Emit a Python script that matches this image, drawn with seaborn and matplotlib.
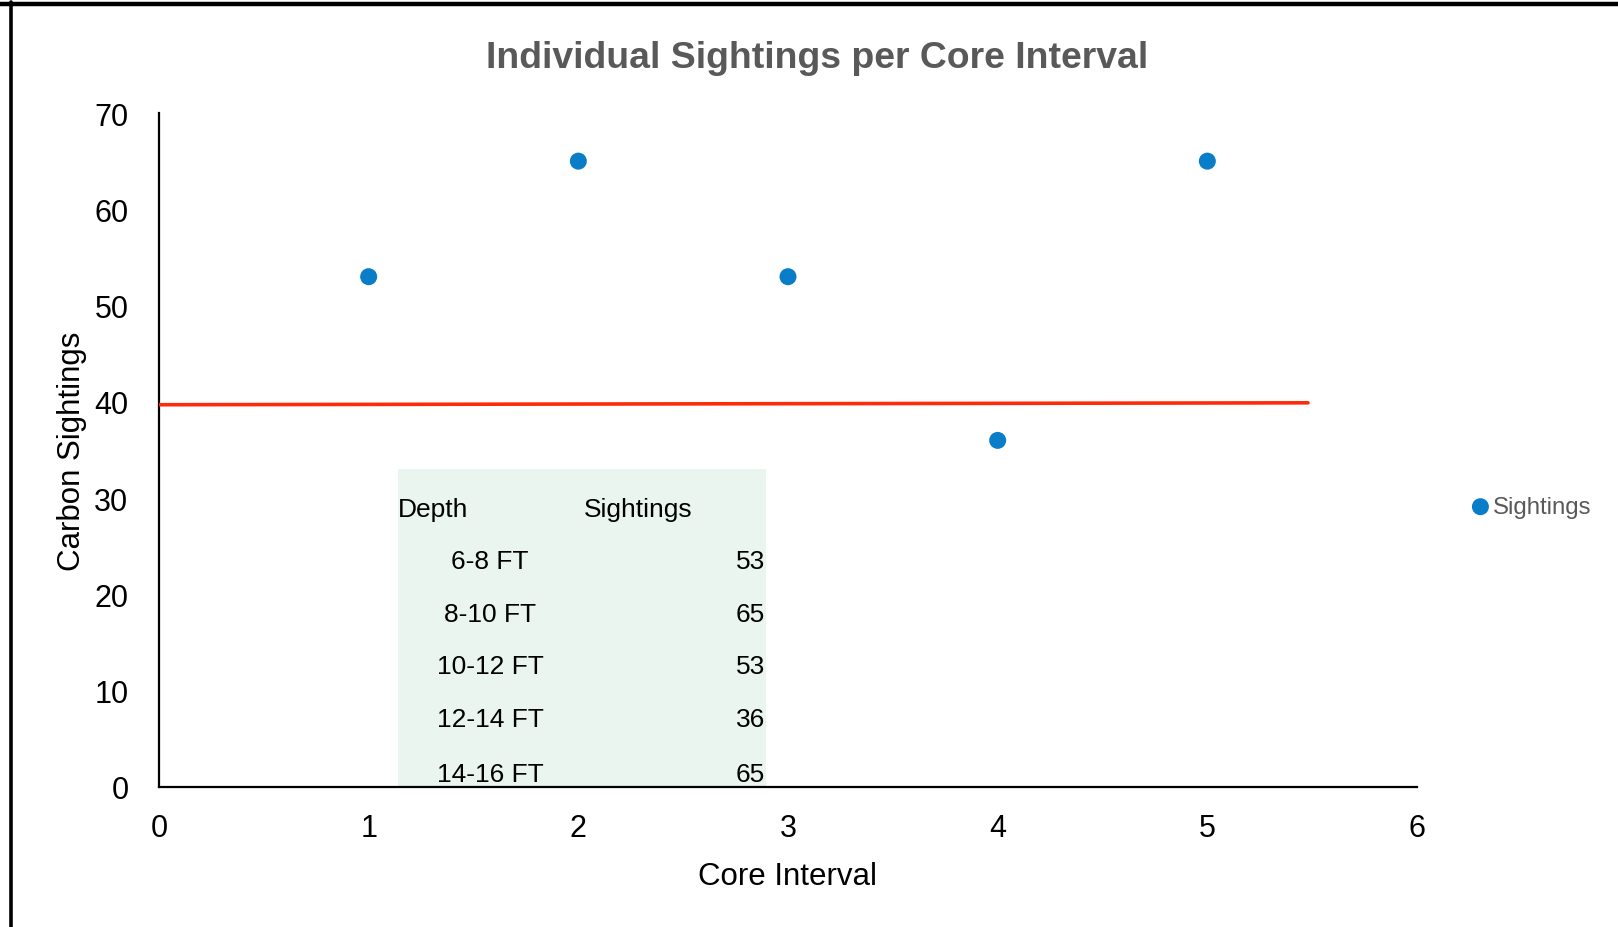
import matplotlib
matplotlib.use("Agg")
import matplotlib.pyplot as plt
import seaborn as sns
import pandas as pd
from matplotlib.lines import Line2D
from matplotlib.patches import Rectangle

# ---- data ----
core_interval = [1, 2, 3, 4, 5]
sightings = [53, 65, 53, 36, 65]
depth_labels = ["6-8 FT", "8-10 FT", "10-12 FT", "12-14 FT", "14-16 FT"]
threshold_x = [0, 5.48]
threshold_y = [39.7, 39.9]
x_ticks = [0, 1, 2, 3, 4, 5, 6]
y_ticks = [0, 10, 20, 30, 40, 50, 60, 70]

title = "Individual Sightings per Core Interval"
x_label = "Core Interval"
y_label = "Carbon Sightings"
series_name = "Sightings"

sns.set_theme(style="white")
plt.rcParams["font.family"] = ["Liberation Sans", "DejaVu Sans"]

W, H = 1618, 928
fig = plt.figure(figsize=(W / 100, H / 100), dpi=100)
ax = fig.add_axes([159 / W, 1 - 788 / H, (1417 - 159) / W, (788 - 114) / H])

df = pd.DataFrame({"x": core_interval, "y": sightings})
line_df = pd.DataFrame({"x": threshold_x, "y": threshold_y})

sns.lineplot(data=line_df, x="x", y="y", ax=ax, color="#FF2A0A", linewidth=2.6,
             legend=False, zorder=3)
sns.scatterplot(data=df, x="x", y="y", ax=ax, color="#0A7DC8", s=150,
                edgecolor="none", label=series_name, zorder=4)

ax.set_xlim(0, 6)
ax.set_ylim(0, 70)
ax.set_xticks(x_ticks)
ax.set_yticks(y_ticks)
ax.tick_params(axis="both", length=0, labelsize=22, colors="black")
ax.tick_params(axis="x", pad=19)
ax.tick_params(axis="y", pad=22)
for s in ["top", "right"]:
    ax.spines[s].set_visible(False)
for s in ["left", "bottom"]:
    ax.spines[s].set_color("black")
    ax.spines[s].set_linewidth(1.6)

ax.set_xlabel(x_label, fontsize=22.5, color="black", labelpad=13)
ax.set_ylabel(y_label, fontsize=22.5, color="black", labelpad=5)

# ---- embedded table ----
x0, x1 = (398 - 159) / 1258, (766 - 159) / 1258
ytop = (788 - 469.5) / 674
ax.add_patch(Rectangle((x0, 0), x1 - x0, ytop, transform=ax.transAxes,
                       facecolor="#E9F5EE", edgecolor="none", zorder=1))
tfs = 19
ax.text(x0, (788 - 510) / 674, "Depth", transform=ax.transAxes, fontsize=tfs,
        ha="left", va="center", color="black", zorder=2)
ax.text((584 - 159) / 1258, (788 - 510) / 674, "Sightings", transform=ax.transAxes,
        fontsize=tfs, ha="left", va="center", color="black", zorder=2)
row_y = [562, 615, 667, 720, 775]
for lab, val, ry in zip(depth_labels, sightings, row_y):
    yy = (788 - ry) / 674
    ax.text((490 - 159) / 1258, yy, lab, transform=ax.transAxes, fontsize=tfs,
            ha="center", va="center", color="black", zorder=2)
    ax.text(x1 - 0.001, yy, str(val), transform=ax.transAxes, fontsize=tfs,
            ha="right", va="center", color="black", zorder=2)

# ---- legend ----
leg = ax.legend(loc="center left", bbox_to_anchor=(1466 / W, 1 - 508 / H),
                bbox_transform=fig.transFigure, frameon=False, fontsize=17.3,
                handletextpad=-0.1, handlelength=1.2, borderpad=0, borderaxespad=0)
for t in leg.get_texts():
    t.set_color("#595959")

# ---- title ----
fig.text(817 / W, 1 - 59 / H, title, ha="center", va="center", fontsize=26.9,
         fontweight="bold", color="#595959")

# ---- outer frame (top & left) ----
fig.add_artist(Line2D([0, 1], [1 - 5 / H, 1 - 5 / H], transform=fig.transFigure,
                      color="black", linewidth=3.2))
fig.add_artist(Line2D([10.5 / W, 10.5 / W], [0, 1 - 3 / H], transform=fig.transFigure,
                      color="black", linewidth=2.6))

fig.savefig("out.png", dpi=100, facecolor="white")
